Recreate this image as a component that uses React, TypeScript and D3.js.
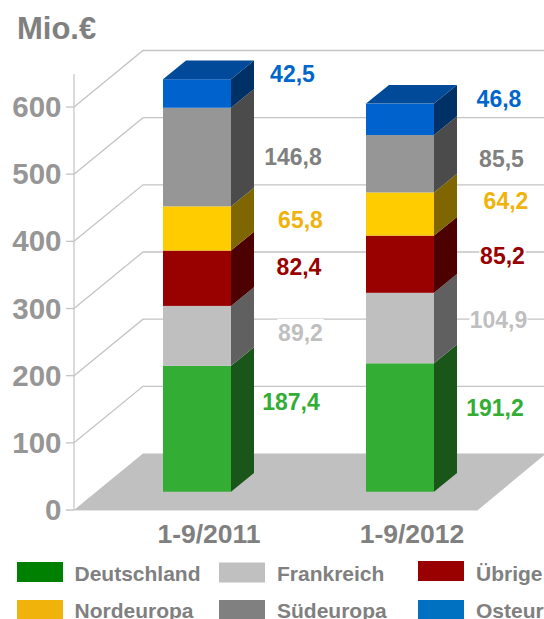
import React from "react";
import * as d3 from "d3";

const W = 544, H = 619;
const periods = ["1-9/2011", "1-9/2012"];
const seriesNames = ["Deutschland", "Frankreich", "Übrige", "Nordeuropa", "Südeuropa", "Osteuropa"];
const values2011 = [187.4, 89.2, 82.4, 65.8, 146.8, 42.5];
const values2012 = [191.2, 104.9, 85.2, 64.2, 85.5, 46.8];
const labels2011 = ["187,4", "89,2", "82,4", "65,8", "146,8", "42,5"];
const labels2012 = ["191,2", "104,9", "85,2", "64,2", "85,5", "46,8"];
const frontColors = ["#33ad33", "#bfbfbf", "#990000", "#ffcc00", "#969696", "#0062cc"];
const sideColors = ["#1a561a", "#606060", "#4c0000", "#806600", "#4b4b4b", "#003166"];
const topColors = ["#268226", "#8f8f8f", "#730000", "#bf9900", "#707070", "#004a99"];
const labelColors = ["#33ad33", "#bfbfbf", "#990000", "#f0b30c", "#808080", "#0066cc"];
const legendColors = ["#008000", "#c0c0c0", "#990000", "#f0b30c", "#808080", "#0070c0"];
const yTicks = [0, 100, 200, 300, 400, 500, 600];

const y = d3.scaleLinear().domain([0, 600]).range([510, 107]);
const dx = 69, dy = -56.5;
const barW = 68, barDx = 23, barDy = -18.7, barBase = 491.7;
const barX = d3.scalePoint<string>().domain(periods).range([163, 366]);
const barH = (v: number) => y(0) - y(v);

// label positions (center x, baseline y)
const labelPos2011: [number, number][] = [[291, 410], [300.5, 341], [299, 275], [300.5, 228], [293, 165], [292.5, 82]];
const labelPos2012: [number, number][] = [[495, 416], [498.5, 328], [502.5, 264], [506, 209], [501.5, 167], [499, 107]];
const legendCols = [17, 219, 418];
const legendTextX = [74.5, 277, 476];
const legendSwatchY = [562, 562.5, 561, 600, 600, 600];
const legendTextY = [581, 581, 581, 618, 618, 618];

const line = d3.line();
const poly = (pts: [number, number][]) => line(pts) + "Z";

function Bar({ name, vals }: { name: string; vals: number[] }) {
  const x0 = barX(name)!;
  const cum = d3.cumsum(vals);
  return (
    <g>
      {vals.map((v, i) => {
        const bottom = barBase - (i === 0 ? 0 : barH(cum[i - 1]));
        const top = barBase - barH(cum[i]);
        const xr = x0 + barW;
        return (
          <g key={i}>
            <rect x={x0} y={top} width={barW} height={bottom - top} fill={frontColors[i]} />
            <path d={poly([[xr, bottom], [xr + barDx, bottom + barDy], [xr + barDx, top + barDy], [xr, top]])} fill={sideColors[i]} />
            {i === vals.length - 1 && (
              <path d={poly([[x0, top], [x0 + barDx, top + barDy], [xr + barDx, top + barDy], [xr, top]])} fill={topColors[i]} />
            )}
          </g>
        );
      })}
    </g>
  );
}

function Labels({ labels, pos }: { labels: string[]; pos: [number, number][] }) {
  return (
    <g fontSize={23} fontWeight={700} textAnchor="middle">
      {labels.map((t, i) => {
        const w = t.length * 11.6;
        return (
          <g key={i}>
            <rect x={pos[i][0] - w / 2} y={pos[i][1] - 22} width={w} height={27} fill="#fff" />
            <text x={pos[i][0]} y={pos[i][1]} fill={labelColors[i]}>{t}</text>
          </g>
        );
      })}
    </g>
  );
}

export default function App() {
  const floor: [number, number][] = [[74, 510], [74 + dx, 510 + dy], [W + 2, 510 + dy], [478, 510]];
  return (
    <svg width={W} height={H} viewBox={`0 0 ${W} ${H}`}
      style={{ position: "absolute", left: 0, top: 0, background: "#fff" }}
      fontFamily="'Liberation Sans', Arial, sans-serif">
      <text x={17} y={39} fontSize={31} fontWeight={700} fill="#808080">Mio.€</text>
      <path d={poly(floor)} fill="#c0c0c0" />
      <line x1={74} x2={74} y1={y(0)} y2={74} stroke="#c8c8c8" strokeWidth={1.3} />
      <line x1={66} x2={478} y1={510.5} y2={510.5} stroke="#e4e4e4" strokeWidth={1} />
      {yTicks.map(t => (
        <g key={t}>
          {t > 0 && (
            <path d={`M74,${y(t)}L${74 + dx},${y(t) + dy}L${W},${y(t) + dy}`} fill="none" stroke="#c4c4c4" strokeWidth={1.3} />
          )}
          <line x1={66} x2={74} y1={y(t)} y2={y(t)} stroke="#c4c4c4" strokeWidth={1.3} />
          <text x={61.5} y={y(t) + 10} fontSize={29.5} fontWeight={700} fill="#969696" textAnchor="end">{t}</text>
        </g>
      ))}
      <Labels labels={labels2011} pos={labelPos2011} />
      <Labels labels={labels2012} pos={labelPos2012} />
      <Bar name={periods[0]} vals={values2011} />
      <Bar name={periods[1]} vals={values2012} />
      <g fontSize={26.5} fontWeight={700} fill="#808080" textAnchor="middle">
        <text x={209} y={543}>{periods[0]}</text>
        <text x={412} y={543}>{periods[1]}</text>
      </g>
      {seriesNames.map((n, i) => {
        const c = i % 3;
        return (
          <g key={n}>
            <rect x={legendCols[c]} y={legendSwatchY[i]} width={46} height={20} fill={legendColors[i]} />
            <text x={legendTextX[c]} y={legendTextY[i]} fontSize={21} fontWeight={700} fill="#808080">{n}</text>
          </g>
        );
      })}
    </svg>
  );
}
